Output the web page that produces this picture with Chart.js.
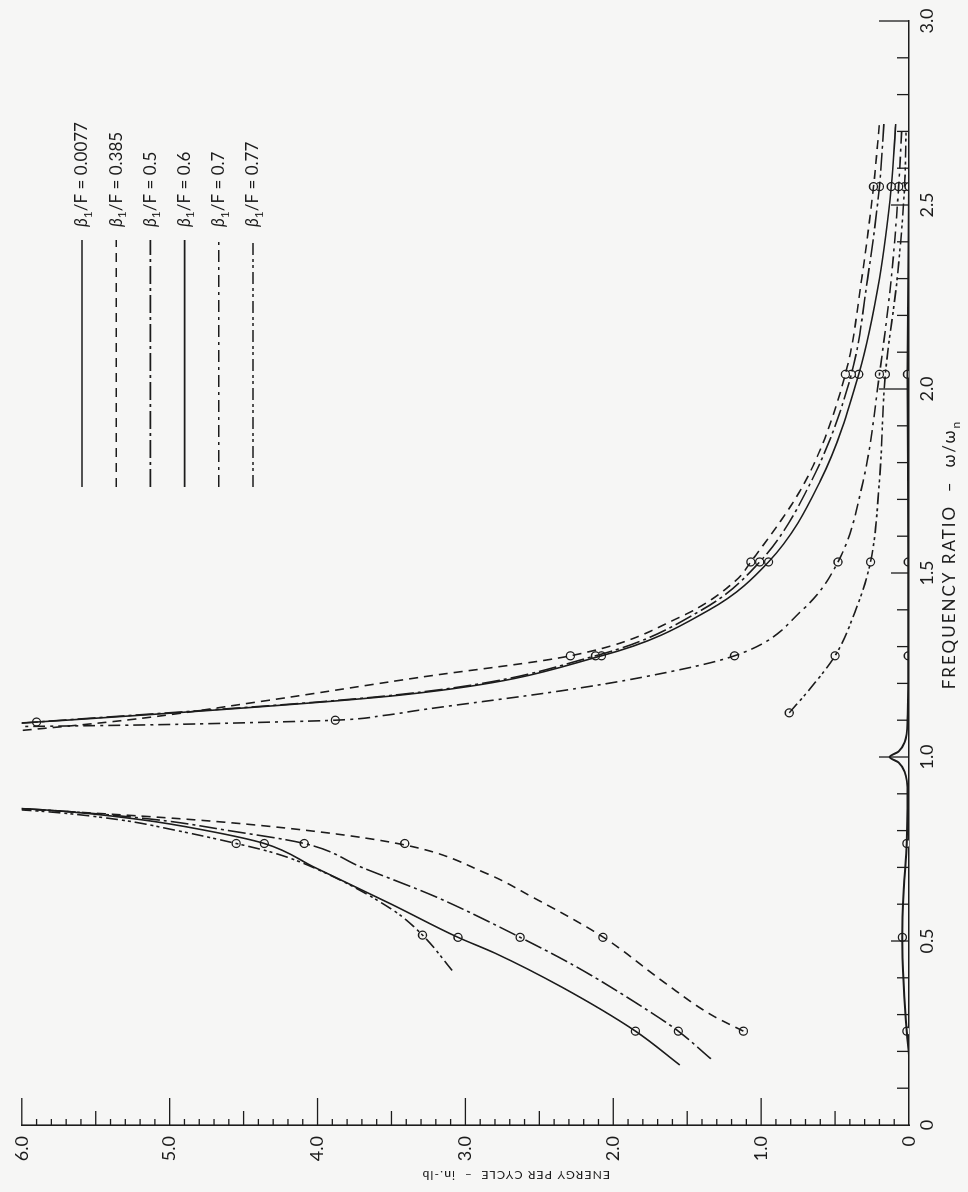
<!DOCTYPE html>
<html>
<head>
<meta charset="utf-8">
<script src="https://cdn.jsdelivr.net/npm/chart.js@4.4.1/dist/chart.umd.min.js"></script>
<style>
  html, body { margin: 0; padding: 0; background: #f6f6f5; overflow: hidden; }
  /* the figure is printed sideways: draw it upright, then turn it a quarter left */
  #wrap { position: absolute; left: 0; top: 0; width: 1192px; height: 968px;
          transform-origin: 0 0; transform: translateY(1192px) rotate(-90deg); }
</style>
</head>
<body>
<div id="wrap"><canvas id="energy" width="1192" height="968"></canvas></div>
<script>
// frequency ratio w/wn of the test points
var testFreq = [0.255, 0.51, 0.765, 1.275, 1.53, 2.04, 2.55];

var seriesNames = ["0.0077", "0.385", "0.5", "0.6", "0.7", "0.77"];

// measured points, energy per cycle (in.-lb)
var mark0077F = testFreq;
var mark0077E = [0.015, 0.045, 0.015, 0.005, 0.005, 0.01, 0.0];
var mark385F = testFreq;
var mark385E = [1.12, 2.07, 3.41, 2.29, 1.07, 0.43, 0.24];
var mark50F = [0.255, 0.51, 0.765, 1.095, 1.275, 1.53, 2.04, 2.55];
var mark50E = [1.56, 2.63, 4.09, 5.9, 2.12, 1.01, 0.39, 0.20];
var mark60F = testFreq;
var mark60E = [1.85, 3.05, 4.36, 2.08, 0.95, 0.34, 0.12];
var mark70F = [1.10, 1.275, 1.53, 2.04, 2.55];
var mark70E = [3.88, 1.18, 0.48, 0.20, 0.07];
var mark77F = [0.516, 0.765, 1.12, 1.275, 1.53, 2.04, 2.55];
var mark77E = [3.29, 4.55, 0.81, 0.50, 0.26, 0.16, 0.03];

// faired curves (below and above resonance)
var curve0077F = [0.19, 0.255, 0.38, 0.51, 0.64, 0.765, 0.90, 0.96, 0.985, 1.0, 1.015, 1.04, 1.10, 1.275, 1.53, 2.04, 2.55, 2.72];
var curve0077E = [0.0, 0.015, 0.035, 0.045, 0.035, 0.015, 0.01, 0.03, 0.07, 0.13, 0.07, 0.03, 0.01, 0.005, 0.005, 0.01, 0.0, 0.0];

var low385F = [0.255, 0.30, 0.386, 0.511, 0.62, 0.684, 0.761, 0.80, 0.829, 0.856, 0.872];
var low385E = [1.12, 1.34, 1.65, 2.07, 2.55, 2.86, 3.41, 4.06, 4.82, 5.87, 6.6];
var high385F = [1.05, 1.10, 1.15, 1.217, 1.275, 1.38, 1.48, 1.53, 1.75, 2.04, 2.30, 2.55, 2.72];
var high385E = [6.6, 5.3, 4.4, 3.3, 2.29, 1.55, 1.17, 1.07, 0.70, 0.43, 0.32, 0.24, 0.20];

var low50F = [0.18, 0.255, 0.32, 0.43, 0.51, 0.62, 0.70, 0.765, 0.80, 0.83, 0.855, 0.87];
var low50E = [1.34, 1.56, 1.80, 2.25, 2.63, 3.2, 3.7, 4.09, 4.6, 5.1, 5.8, 6.5];
var high50F = [1.075, 1.095, 1.17, 1.275, 1.40, 1.53, 1.75, 2.04, 2.30, 2.55, 2.72];
var high50E = [6.6, 5.9, 3.44, 2.12, 1.4, 1.01, 0.66, 0.39, 0.28, 0.20, 0.17];

var low60F = [0.163, 0.255, 0.375, 0.467, 0.51, 0.60, 0.70, 0.765, 0.80, 0.83, 0.855, 0.87];
var low60E = [1.55, 1.85, 2.35, 2.80, 3.05, 3.50, 4.02, 4.36, 4.75, 5.2, 5.8, 6.5];
var high60F = [1.078, 1.10, 1.17, 1.275, 1.40, 1.53, 1.75, 2.04, 2.30, 2.55, 2.72];
var high60E = [6.6, 5.7, 3.40, 2.08, 1.35, 0.95, 0.60, 0.34, 0.20, 0.12, 0.09];

var high70F = [1.08, 1.087, 1.095, 1.10, 1.113, 1.128, 1.18, 1.217, 1.275, 1.40, 1.53, 1.75, 2.04, 2.30, 2.55, 2.70];
var high70E = [6.6, 5.2, 4.3, 3.88, 3.55, 3.30, 2.35, 1.80, 1.18, 0.72, 0.48, 0.31, 0.20, 0.12, 0.07, 0.05];

var low77F = [0.42, 0.516, 0.584, 0.70, 0.74, 0.765, 0.80, 0.83, 0.852, 0.868];
var low77E = [3.09, 3.29, 3.49, 4.03, 4.3, 4.55, 4.95, 5.35, 5.85, 6.5];
var high77F = [1.12, 1.19, 1.275, 1.40, 1.53, 1.75, 2.04, 2.30, 2.55, 2.70];
var high77E = [0.81, 0.66, 0.50, 0.36, 0.26, 0.20, 0.16, 0.08, 0.03, 0.02];

var freqTicks = [0, 0.5, 1.0, 1.5, 2.0, 2.5, 3.0];
var energyTicks = [0, 1, 2, 3, 4, 5, 6];

var ink = "#1c1c1c";
var paper = "#f6f6f5";
var dashes = [[], [9, 6], [18, 4, 3, 4], [], [12, 5, 3, 5], [12, 4, 3, 3, 3, 4]];

function pts(fs, es) {
  return fs.map(function(f, i) { return { x: f, y: es[i] }; });
}

var curves = [
  [0, curve0077F, curve0077E],
  [1, low385F, low385E], [1, high385F, high385E],
  [2, low50F, low50E], [2, high50F, high50E],
  [3, low60F, low60E], [3, high60F, high60E],
  [4, high70F, high70E],
  [5, low77F, low77E], [5, high77F, high77E]
];
var marks = [
  [mark0077F, mark0077E], [mark385F, mark385E], [mark50F, mark50E],
  [mark60F, mark60E], [mark70F, mark70E], [mark77F, mark77E]
];

var datasets = [];
curves.forEach(function(c) {
  datasets.push({
    data: pts(c[1], c[2]),
    showLine: true,
    borderColor: ink,
    borderWidth: c[0] === 0 ? 2 : 1.6,
    borderDash: dashes[c[0]],
    pointRadius: 0,
    cubicInterpolationMode: "monotone"
  });
});
marks.forEach(function(m) {
  datasets.push({
    data: pts(m[0], m[1]),
    showLine: false,
    pointRadius: 4,
    pointBorderWidth: 1.3,
    pointBorderColor: ink,
    pointBackgroundColor: paper
  });
});

var decorations = {
  id: "decorations",
  beforeDraw: function(chart) {
    var ctx = chart.ctx;
    ctx.save();
    ctx.fillStyle = paper;
    ctx.fillRect(0, 0, chart.width, chart.height);
    ctx.restore();
  },
  afterDraw: function(chart) {
    var ctx = chart.ctx, xs = chart.scales.x, ys = chart.scales.y;
    ctx.save();
    ctx.strokeStyle = ink;
    ctx.lineWidth = 1.3;
    // tick marks point into the plot
    for (var i = 1; i <= 30; i++) {
      var px = xs.getPixelForValue(i / 10);
      var len = i % 10 === 0 ? 30 : (i % 5 === 0 ? 18 : 12);
      ctx.beginPath(); ctx.moveTo(px, ys.bottom); ctx.lineTo(px, ys.bottom - len); ctx.stroke();
    }
    for (var j = 1; j <= 60; j++) {
      var py = ys.getPixelForValue(j / 10);
      var l2 = j % 10 === 0 ? 27 : (j % 5 === 0 ? 14 : 6);
      ctx.beginPath(); ctx.moveTo(xs.left, py); ctx.lineTo(xs.left + l2, py); ctx.stroke();
    }

    ctx.fillStyle = ink;
    ctx.textBaseline = "middle";

    // frequency title
    ctx.letterSpacing = "2px";
    var t1 = "FREQUENCY RATIO  \u2013  \u03c9/\u03c9";
    ctx.font = "17px Lato";
    var w1 = ctx.measureText(t1).width;
    ctx.font = "12px Lato";
    var w2 = ctx.measureText("n").width;
    var cx = xs.getPixelForValue(1.55);
    var sx = cx - (w1 + w2) / 2;
    ctx.textAlign = "left";
    ctx.font = "17px Lato";
    ctx.fillText(t1, sx, 950);
    ctx.font = "12px Lato";
    ctx.fillText("n", sx + w1, 956);

    // energy title
    ctx.save();
    ctx.translate(17, ys.getPixelForValue(2.66));
    ctx.rotate(-Math.PI / 2);
    ctx.font = "12px Lato";
    ctx.letterSpacing = "1.2px";
    ctx.textAlign = "center";
    ctx.fillText("ENERGY PER CYCLE  \u2013  in.-lb", 0, 0);
    ctx.restore();

    // legend
    ctx.letterSpacing = "0px";
    seriesNames.forEach(function(name, k) {
      var y = 82 + 34.2 * k;
      ctx.save();
      ctx.setLineDash(dashes[k]);
      ctx.lineWidth = 1.6;
      ctx.beginPath(); ctx.moveTo(705, y); ctx.lineTo(952, y); ctx.stroke();
      ctx.restore();
      var x = 965;
      ctx.textAlign = "left";
      ctx.font = "italic 17px Lato";
      ctx.fillText("\u03b2", x, y);
      x += ctx.measureText("\u03b2").width;
      ctx.font = "12px Lato";
      ctx.fillText("1", x, y + 6);
      x += ctx.measureText("1").width;
      ctx.font = "17px Lato";
      ctx.fillText("/F = " + name, x, y);
    });
    ctx.restore();
  }
};

new Chart(document.getElementById("energy"), {
  type: "scatter",
  data: { datasets: datasets },
  options: {
    responsive: false,
    animation: false,
    devicePixelRatio: 1,
    layout: { padding: { top: 21, right: 21, left: 0, bottom: 0 } },
    plugins: { legend: { display: false }, tooltip: { enabled: false } },
    scales: {
      x: {
        type: "linear", min: 0, max: 3,
        afterBuildTicks: function(s) { s.ticks = freqTicks.map(function(v) { return { value: v }; }); },
        afterFit: function(s) { s.height = 59; },
        ticks: {
          autoSkip: false, maxRotation: 0, padding: 7, color: ink,
          font: { family: "Lato", size: 18 },
          callback: function(v) { return v === 0 ? "0" : v.toFixed(1); }
        },
        grid: { display: false, drawTicks: false },
        border: { display: true, color: ink, width: 1.6 }
      },
      y: {
        type: "linear", min: 0, max: 6,
        afterBuildTicks: function(s) { s.ticks = energyTicks.map(function(v) { return { value: v }; }); },
        afterFit: function(s) { s.width = 67; },
        ticks: {
          autoSkip: false, padding: 11, color: ink,
          font: { family: "Lato", size: 18 },
          callback: function(v) { return v === 0 ? "0" : v.toFixed(1); }
        },
        grid: { display: false, drawTicks: false },
        border: { display: true, color: ink, width: 1.6 }
      }
    }
  },
  plugins: [decorations]
});
</script>
</body>
</html>
